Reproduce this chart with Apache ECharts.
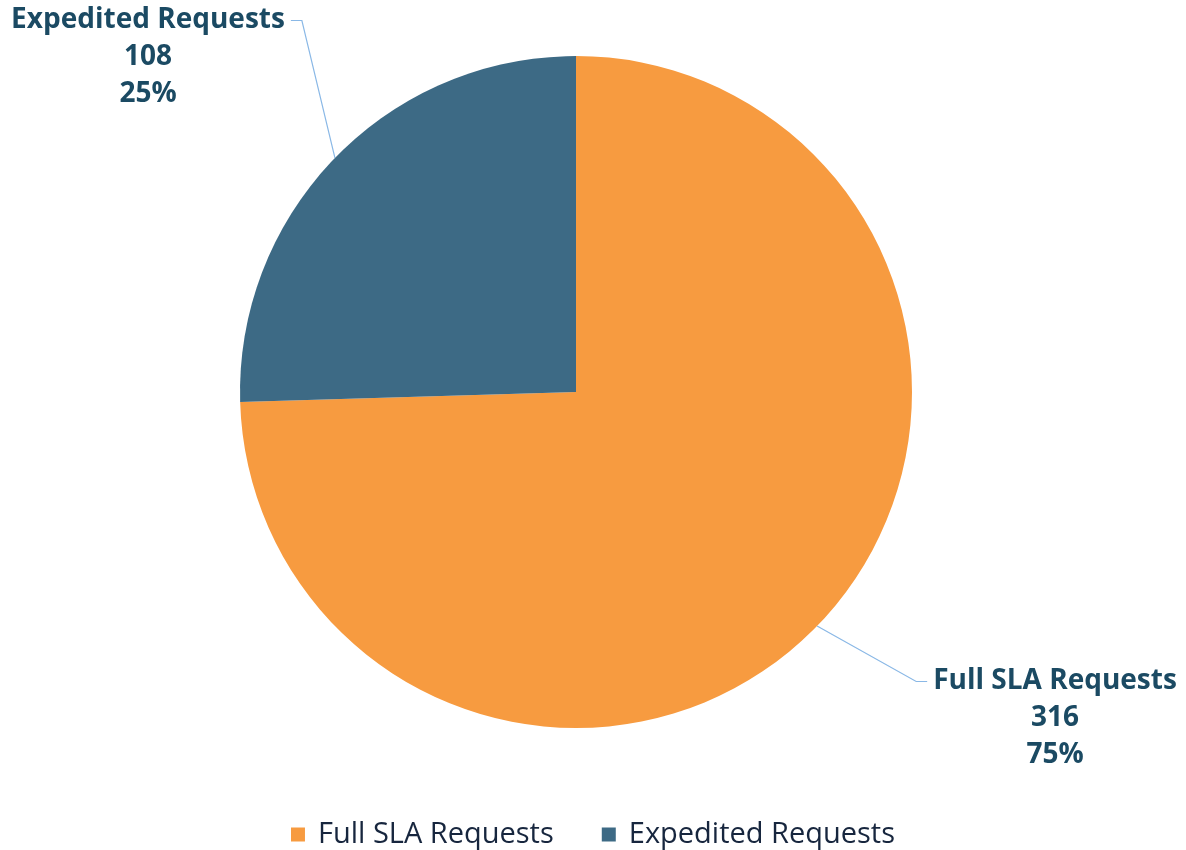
<!DOCTYPE html>
<html><head><meta charset="utf-8">
<script src="https://cdn.jsdelivr.net/npm/echarts@6/dist/echarts.min.js"></script>
<style>html,body{margin:0;padding:0;background:#fff}#c{width:1186px;height:850px}</style>
</head><body><div id="c"></div>
<script>
const categories = ['Full SLA Requests', 'Expedited Requests'];
const values = [316, 108];
const colors = ['#F79B40', '#3D6A85'];
const labelAnchors = [[1055, 718], [148, 57]];

const chart = echarts.init(document.getElementById('c'), null, {renderer: 'canvas'});
const total = values.reduce((a, b) => a + b, 0);
chart.setOption({
  animation: false,
  legend: {
    bottom: -4, left: 'center', itemWidth: 14, itemHeight: 14, itemGap: 48,
    icon: 'rect',
    textStyle: {fontSize: 29, color: '#17263E', fontFamily: 'Open Sans', padding: [0, 0, 0, 8]},
    data: categories
  },
  series: [{
    type: 'pie',
    center: [576, 392],
    radius: 336,
    startAngle: 90,
    clockwise: true,
    data: categories.map((c, i) => ({name: c, value: values[i], itemStyle: {color: colors[i]}})),
    label: {
      show: true,
      formatter: p => p.name + '\n' + p.value + '\n' + Math.round(p.value / total * 100) + '%',
      fontSize: 28, fontWeight: 'bold', color: '#1B4A63', fontFamily: 'Open Sans',
      lineHeight: 37, align: 'center'
    },
    labelLine: {show: true, lineStyle: {color: '#8AB8E6', width: 1.2}, length: 20, length2: 12},
    labelLayout: p => {
      const [cx, cy] = labelAnchors[p.dataIndex];
      const w = p.labelRect.width, h = p.labelRect.height;
      const top = cy - h / 2;
      const start = p.labelLinePoints ? p.labelLinePoints[0] : null;
      let pts;
      if (start) {
        const left = cx < 576;
        const ex = left ? cx + w / 2 + 6 : cx - w / 2 - 6;
        const ey = top + 19;
        const bx = left ? ex + 11 : ex - 11;
        pts = [start, [bx, ey], [ex, ey]];
      }
      const o = {x: cx, y: cy, align: 'center', verticalAlign: 'middle'};
      if (pts) o.labelLinePoints = pts;
      return o;
    },
    emphasis: {disabled: true}
  }]
});
</script></body></html>
